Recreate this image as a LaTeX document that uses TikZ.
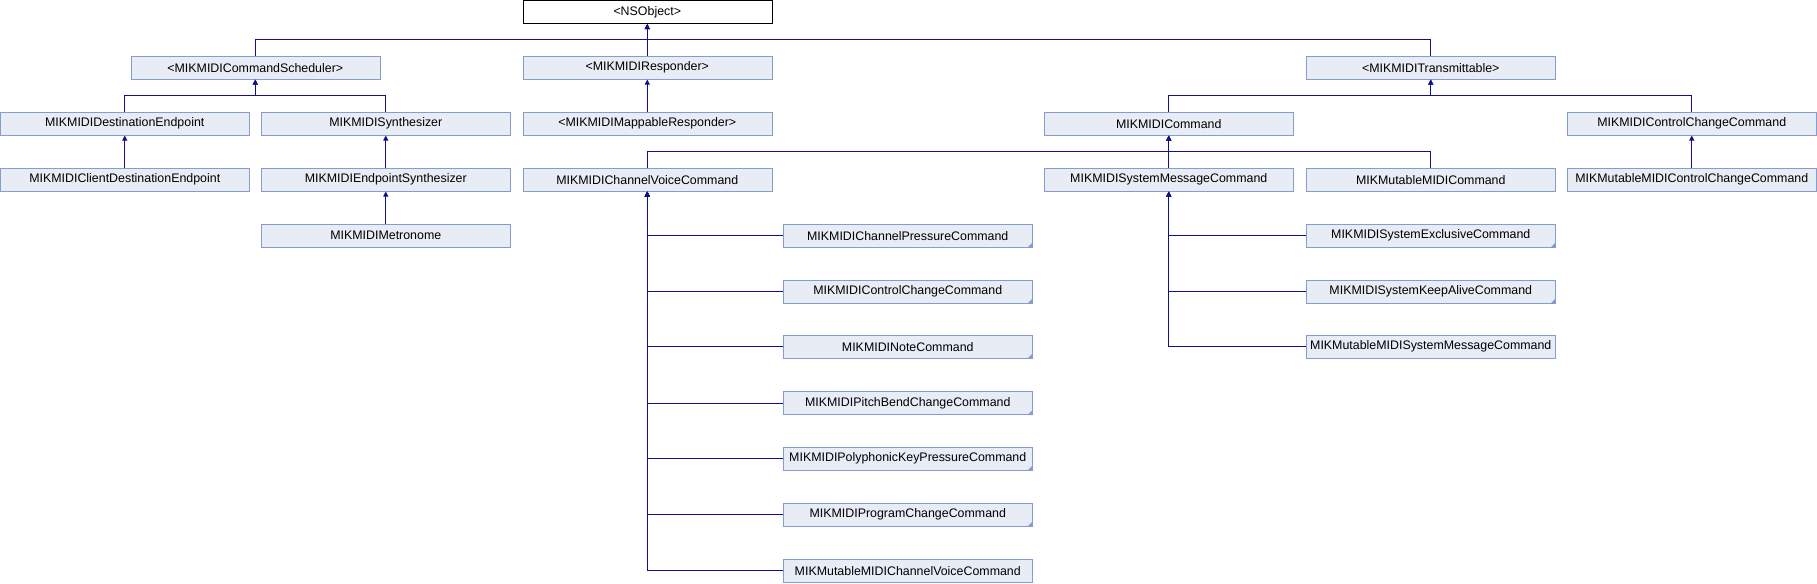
\documentclass[tikz,border=0pt]{standalone}
\usepackage{fontspec}
\setmainfont{Liberation Sans}
\usetikzlibrary{arrows.meta}
\definecolor{boxfill}{RGB}{232,236,244}
\definecolor{boxline}{RGB}{132,156,206}
\definecolor{edgeblue}{RGB}{16,16,140}
\tikzset{
	cls/.style={draw=boxline, fill=boxfill, anchor=north west, minimum width=186.75pt, minimum height=17.25pt, inner sep=0pt, font=\fontsize{9.3pt}{11pt}\selectfont},
	root/.style={cls, draw=black, fill=white},
	inh/.style={draw=edgeblue, line width=0.75pt, -{Triangle[length=3.75pt,width=3.75pt]}},
	corner/.style={fill=boxline}
}
\begin{document}
\begin{tikzpicture}[x=0.75pt, y=-0.75pt]
	\useasboundingbox (0,0) rectangle (1817,584);
	\node[root] (ns) at (522.5,0.5) {<NSObject>};
	\node[cls] (sched) at (130.5,56) {<MIKMIDICommandScheduler>};
	\node[cls] (resp) at (522.5,56) {<MIKMIDIResponder>};
	\node[cls] (trans) at (1306,56) {<MIKMIDITransmittable>};
	\node[cls] (dest) at (0,112) {MIKMIDIDestinationEndpoint};
	\node[cls] (synth) at (261,112) {MIKMIDISynthesizer};
	\node[cls] (mapresp) at (522.5,112) {<MIKMIDIMappableResponder>};
	\node[cls] (cmd) at (1044,112) {MIKMIDICommand};
	\node[cls] (ccc) at (1567,112) {MIKMIDIControlChangeCommand};
	\node[cls] (clientdest) at (0,168) {MIKMIDIClientDestinationEndpoint};
	\node[cls] (epsynth) at (261,168) {MIKMIDIEndpointSynthesizer};
	\node[cls] (cvc) at (522.5,168) {MIKMIDIChannelVoiceCommand};
	\node[cls] (smc) at (1044,168) {MIKMIDISystemMessageCommand};
	\node[cls] (mutcmd) at (1306,168) {MIKMutableMIDICommand};
	\node[cls] (mutccc) at (1567,168) {MIKMutableMIDIControlChangeCommand};
	\node[cls] (metro) at (261,224) {MIKMIDIMetronome};
	\node[cls] (chpress) at (783,224) {MIKMIDIChannelPressureCommand};
	\node[cls] (ctrlchg) at (783,280) {MIKMIDIControlChangeCommand};
	\node[cls] (note) at (783,335) {MIKMIDINoteCommand};
	\node[cls] (pitch) at (783,391.5) {MIKMIDIPitchBendChangeCommand};
	\node[cls] (polykey) at (783,447) {MIKMIDIPolyphonicKeyPressureCommand};
	\node[cls] (prog) at (783,503) {MIKMIDIProgramChangeCommand};
	\node[cls] (mutcvc) at (783,559) {MIKMutableMIDIChannelVoiceCommand};
	\node[cls] (sysex) at (1306,224) {MIKMIDISystemExclusiveCommand};
	\node[cls] (keep) at (1306,280) {MIKMIDISystemKeepAliveCommand};
	\node[cls] (mutsmc) at (1306,335) {MIKMutableMIDISystemMessageCommand};
	\foreach \n in {chpress,ctrlchg,note,pitch,polykey,prog,sysex,keep}
		\fill[corner] (\n.south east) -- ++(-5,0) -- ++(5,-5) -- cycle;

	\draw[inh] (sched.north) -- ++(0,-16) -| (ns.south);
	\draw[inh] (resp.north) -- ++(0,-16) -| (ns.south);
	\draw[inh] (trans.north) -- ++(0,-16) -| (ns.south);
	\draw[inh] (dest.north) -- ++(0,-16) -| (sched.south);
	\draw[inh] (synth.north) -- ++(0,-16) -| (sched.south);
	\draw[inh] (mapresp.north) -- (resp.south);
	\draw[inh] (cmd.north) -- ++(0,-16) -| (trans.south);
	\draw[inh] (ccc.north) -- ++(0,-16) -| (trans.south);
	\draw[inh] (clientdest.north) -- (dest.south);
	\draw[inh] (epsynth.north) -- (synth.south);
	\draw[inh] (cvc.north) -- ++(0,-16) -| (cmd.south);
	\draw[inh] (smc.north) -- ++(0,-16) -| (cmd.south);
	\draw[inh] (mutcmd.north) -- ++(0,-16) -| (cmd.south);
	\draw[inh] (mutccc.north) -- (ccc.south);
	\draw[inh] (metro.north) -- (epsynth.south);
	\draw[inh] (chpress.west) -| (cvc.south);
	\draw[inh] (ctrlchg.west) -| (cvc.south);
	\draw[inh] (note.west) -| (cvc.south);
	\draw[inh] (pitch.west) -| (cvc.south);
	\draw[inh] (polykey.west) -| (cvc.south);
	\draw[inh] (prog.west) -| (cvc.south);
	\draw[inh] (mutcvc.west) -| (cvc.south);
	\draw[inh] (sysex.west) -| (smc.south);
	\draw[inh] (keep.west) -| (smc.south);
	\draw[inh] (mutsmc.west) -| (smc.south);
\end{tikzpicture}
\end{document}
